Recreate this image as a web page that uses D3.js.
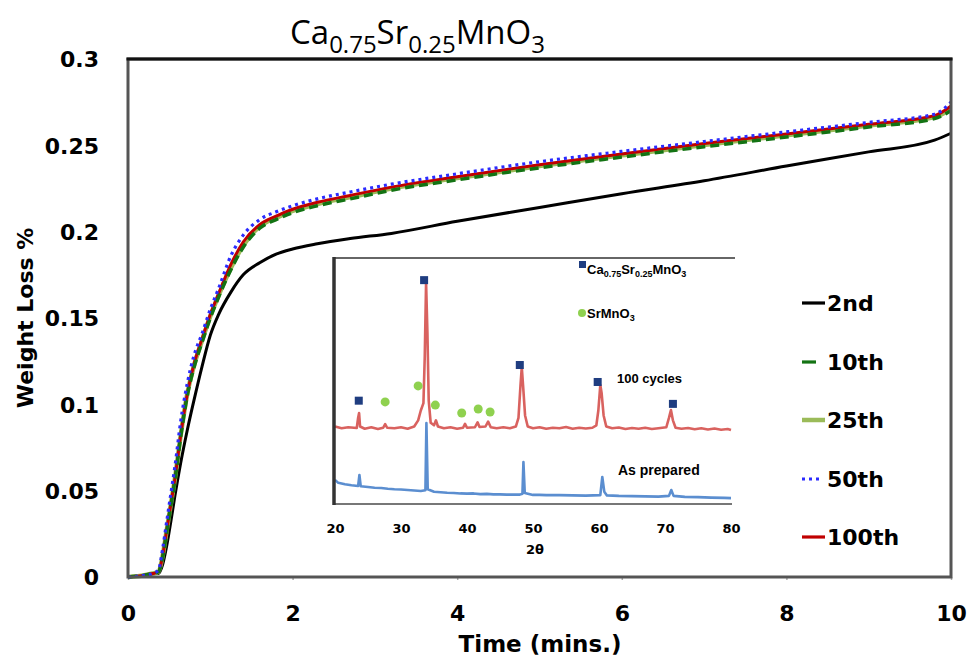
<!DOCTYPE html>
<html>
<head>
<meta charset="utf-8">
<script src="https://cdn.jsdelivr.net/npm/d3@7/dist/d3.min.js"></script>
<style>
  html, body { margin: 0; padding: 0; background: #fff; }
  svg { display: block; }
</style>
</head>
<body>
<svg id="chart" width="972" height="660"></svg>
<script>
// Time axis (minutes) shared by all cycle curves
const time = [0, 0.2, 0.3, 0.37, 0.42, 0.47, 0.52, 0.57, 0.64, 0.72, 0.8, 0.9, 1.0, 1.1, 1.25, 1.4, 1.6, 1.8, 2.0, 2.3, 2.7, 3.2, 4, 5, 6, 7, 8, 9, 9.8, 10];

// Weight loss (%) per cycle
const loss2nd   = [0, 0.001, 0.002, 0.002, 0.007, 0.018, 0.032, 0.047, 0.066, 0.085, 0.102, 0.122, 0.140, 0.152, 0.165, 0.175, 0.182, 0.187, 0.190, 0.193, 0.196, 0.199, 0.206, 0.214, 0.222, 0.2295, 0.2380, 0.2462, 0.2530, 0.257];
const loss10th  = [0, 0.001, 0.002, 0.003, 0.011, 0.026, 0.041, 0.056, 0.081, 0.105, 0.121, 0.136, 0.150, 0.162, 0.178, 0.191, 0.202, 0.207, 0.211, 0.215, 0.219, 0.2240, 0.2300, 0.2370, 0.2432, 0.2492, 0.2548, 0.2606, 0.2655, 0.2700];
const loss25th  = [0, 0.001, 0.002, 0.003, 0.012, 0.027, 0.042, 0.057, 0.082, 0.106, 0.122, 0.137, 0.151, 0.163, 0.179, 0.192, 0.203, 0.208, 0.212, 0.216, 0.220, 0.2250, 0.2310, 0.2380, 0.2442, 0.2502, 0.2558, 0.2615, 0.2663, 0.2710];
const loss50th  = [0, 0.001, 0.002, 0.004, 0.016, 0.032, 0.048, 0.064, 0.090, 0.112, 0.128, 0.141, 0.155, 0.167, 0.186, 0.198, 0.207, 0.2115, 0.215, 0.219, 0.223, 0.2275, 0.2335, 0.2405, 0.2465, 0.2522, 0.2578, 0.2633, 0.2680, 0.2750];
const loss100th = [0, 0.001, 0.002, 0.003, 0.012, 0.027, 0.042, 0.057, 0.082, 0.106, 0.123, 0.138, 0.152, 0.164, 0.181, 0.194, 0.204, 0.209, 0.213, 0.217, 0.221, 0.2258, 0.2318, 0.2388, 0.2450, 0.2510, 0.2566, 0.2622, 0.2672, 0.2728];

const xTicks = [0, 2, 4, 6, 8, 10];
const yTicks = [0, 0.05, 0.1, 0.15, 0.2, 0.25, 0.3];
const yTickLabels = ["0", "0.05", "0.1", "0.15", "0.2", "0.25", "0.3"];

const seriesNames = ["2nd", "10th", "25th", "50th", "100th"];

// XRD patterns for the inset (2θ in degrees, intensity in arbitrary units)
const theta100 = [20, 21, 22, 23.3, 23.5, 23.65, 23.8, 24.5, 25.5, 26.5, 27.3, 27.6, 27.9, 29, 30, 31, 32, 32.6, 33.0, 33.4, 33.6, 33.8, 34.0, 34.2, 34.5, 35.0, 35.3, 35.6, 36.5, 37.5, 38.5, 39.4, 39.7, 40.0, 41.2, 41.6, 41.9, 42.8, 43.2, 43.6, 44.5, 45.5, 46.5, 47.4, 47.8, 48.1, 48.3, 48.5, 48.8, 49.2, 50, 51, 52, 53, 54, 55, 56, 57, 58, 59, 59.6, 59.9, 60.2, 60.4, 60.7, 61.1, 62, 63, 64, 65, 66, 67, 68, 69, 70.2, 70.6, 70.9, 71.2, 71.6, 72.5, 73.5, 74.5, 75.5, 76.5, 77.5, 78.5, 79.5, 80];
const int100   = [31.5, 30.8, 31.2, 30.9, 35, 37, 31.5, 30.6, 31.2, 30.5, 31, 32.5, 31, 30.8, 31.2, 30.6, 31.5, 34, 38, 41, 60, 90, 70, 42, 33, 32, 34, 31.5, 30.8, 31.2, 30.6, 31, 32.6, 31, 31.2, 33.2, 31.3, 31.5, 33.5, 31.2, 30.8, 31.2, 30.8, 31.5, 35, 48, 55.7, 48, 36, 31.5, 30.8, 31.2, 30.6, 31, 30.8, 31.3, 30.6, 31, 30.7, 31, 32, 38, 48.4, 45, 36, 31.5, 30.8, 31.1, 30.5, 30.9, 30.6, 31, 30.5, 30.8, 31.2, 35, 38.2, 34, 31, 30.6, 30.9, 30.4, 30.8, 30.3, 30.7, 30.2, 30.5, 30.1];

const thetaPrep = [20, 20.5, 21.5, 22.5, 23.5, 23.7, 23.9, 25, 26, 27, 28, 29, 30, 31, 32, 33, 33.7, 33.85, 34.05, 35, 36, 37, 38, 39, 40, 41, 42, 43, 44, 45, 46, 47, 48, 48.4, 48.55, 48.75, 50, 51, 52, 54, 56, 58, 60.2, 60.5, 60.8, 61.2, 63, 65, 67, 69, 70.6, 70.95, 71.3, 73, 75, 77, 79, 80];
const intPrep   = [9.8, 8.6, 8.0, 7.6, 7.3, 11.8, 7.2, 6.9, 6.6, 6.5, 6.2, 6.0, 5.9, 5.7, 5.5, 5.3, 5.6, 32.9, 6.0, 5.0, 4.8, 4.6, 4.5, 4.3, 4.2, 4.3, 4.0, 4.1, 3.9, 3.9, 3.8, 3.8, 3.8, 4.2, 17.1, 4.5, 3.7, 3.7, 3.6, 3.6, 3.5, 3.4, 3.6, 11, 5, 3.5, 3.3, 3.2, 3.1, 3.0, 3.3, 5.7, 3.3, 2.9, 2.8, 2.6, 2.5, 2.4];

// Phase markers: perovskite reflections and SrMnO3 reflections
const perovskitePeaks = [[23.6, 42], [33.5, 91], [48.0, 56.5], [59.8, 49.6], [71.2, 40.7]];
const srmnoPeaks = [[27.6, 41.5], [32.6, 48], [35.2, 40.2], [39.2, 37], [41.7, 38.6], [43.5, 37.4]];
const insetTicks = [20, 30, 40, 50, 60, 70, 80];

const svg = d3.select("#chart");
const boldFont = "'DejaVu Sans', Verdana, sans-serif";

// ---- main plot geometry ----
const plotLeft = 128, plotRight = 951, plotTop = 59, plotBottom = 577;
const x = d3.scaleLinear().domain([0, 10]).range([plotLeft, plotRight]);
const y = d3.scaleLinear().domain([0, 0.3]).range([plotBottom, plotTop]);

// Title with subscripts
const title = svg.append("text")
  .attr("x", 290).attr("y", 44)
  .attr("font-family", "'Open Sans', 'Noto Sans', sans-serif")
  .attr("font-size", 33).attr("fill", "#000");
title.append("tspan").text("Ca");
title.append("tspan").attr("font-size", 24).attr("dy", 9).text("0.75");
title.append("tspan").attr("dy", -9).text("Sr");
title.append("tspan").attr("font-size", 24).attr("dy", 9).text("0.25");
title.append("tspan").attr("dy", -9).text("MnO");
title.append("tspan").attr("font-size", 24).attr("dy", 9).text("3");

// Axes (tick labels drawn via d3.axis, domain lines replaced by the frame)
const xAxis = d3.axisBottom(x).tickValues(xTicks).tickSize(3).tickFormat(d3.format("d"));
const gx = svg.append("g").attr("transform", `translate(0,${plotBottom})`).call(xAxis);
gx.select(".domain").remove();
gx.selectAll(".tick line").attr("stroke", "#aaa").attr("stroke-width", 1.5);
gx.selectAll(".tick text")
  .attr("font-family", boldFont).attr("font-weight", "bold").attr("font-size", 22)
  .attr("fill", "#000").attr("dy", null).attr("y", 44);

const yAxis = d3.axisLeft(y).tickValues(yTicks).tickSize(0)
  .tickFormat((d, i) => yTickLabels[i]);
const gy = svg.append("g").attr("transform", `translate(${plotLeft},0)`).call(yAxis);
gy.select(".domain").remove();
gy.selectAll(".tick text")
  .attr("font-family", boldFont).attr("font-weight", "bold").attr("font-size", 22)
  .attr("fill", "#000").attr("x", -29).attr("dy", "0.36em");

// Axis titles
svg.append("text")
  .attr("x", 540).attr("y", 652).attr("text-anchor", "middle")
  .attr("font-family", boldFont).attr("font-weight", "bold").attr("font-size", 23)
  .text("Time (mins.)");
svg.append("text")
  .attr("transform", "translate(33,318) rotate(-90)").attr("text-anchor", "middle")
  .attr("font-family", boldFont).attr("font-weight", "bold").attr("font-size", 22)
  .text("Weight Loss %");

// ---- inset XRD panel ----
const ix = d3.scaleLinear().domain([20, 80]).range([335, 731]);
const iy = d3.scaleLinear().domain([0, 100]).range([504, 258]);
const inset = svg.append("g");
inset.append("rect").attr("x", 334).attr("y", 258).attr("width", 401).attr("height", 246).attr("fill", "#fff");

const xrdLine = d3.line().x(d => ix(d[0])).y(d => iy(d[1]));
inset.append("path")
  .datum(thetaPrep.map((t, i) => [t, intPrep[i]]))
  .attr("d", xrdLine).attr("fill", "none")
  .attr("stroke", "#5b8ed0").attr("stroke-width", 2.6).attr("stroke-linejoin", "round");
inset.append("path")
  .datum(theta100.map((t, i) => [t, int100[i]]))
  .attr("d", xrdLine).attr("fill", "none")
  .attr("stroke", "#d9625f").attr("stroke-width", 2.6).attr("stroke-linejoin", "round");

inset.selectAll("rect.pv").data(perovskitePeaks).join("rect").attr("class", "pv")
  .attr("x", d => ix(d[0]) - 4).attr("y", d => iy(d[1]) - 4)
  .attr("width", 8).attr("height", 8).attr("fill", "#1f3d80");
inset.selectAll("circle.sm").data(srmnoPeaks).join("circle").attr("class", "sm")
  .attr("cx", d => ix(d[0])).attr("cy", d => iy(d[1])).attr("r", 4.5).attr("fill", "#8fd14f");

// inset frame: top border, left and bottom axes
inset.append("line").attr("x1", 334).attr("x2", 735).attr("y1", 258).attr("y2", 258)
  .attr("stroke", "#666").attr("stroke-width", 2);
inset.append("line").attr("x1", 334).attr("x2", 732).attr("y1", 504).attr("y2", 504)
  .attr("stroke", "#777").attr("stroke-width", 2);
inset.append("line").attr("x1", 334).attr("x2", 334).attr("y1", 257).attr("y2", 505)
  .attr("stroke", "#333").attr("stroke-width", 3.5);

const insetAxis = d3.axisBottom(ix).tickValues(insetTicks).tickSize(0).tickFormat(d3.format("d"));
const gix = inset.append("g").attr("transform", "translate(0,504)").call(insetAxis);
gix.select(".domain").remove();
gix.selectAll(".tick text")
  .attr("font-family", boldFont).attr("font-weight", "bold").attr("font-size", 13)
  .attr("fill", "#000").attr("y", 29).attr("dy", null);
inset.append("text").attr("x", 535).attr("y", 554).attr("text-anchor", "middle")
  .attr("font-family", boldFont).attr("font-weight", "bold").attr("font-size", 13).text("2θ");

// inset legend and labels
const smallFont = "'Liberation Sans', Arial, sans-serif";
inset.append("rect").attr("x", 579).attr("y", 261).attr("width", 7).attr("height", 7).attr("fill", "#1f3d80");
const lg1 = inset.append("text").attr("x", 587).attr("y", 274)
  .attr("font-family", smallFont).attr("font-weight", "bold").attr("font-size", 13);
lg1.append("tspan").text("Ca");
lg1.append("tspan").attr("font-size", 9).attr("dy", 3).text("0.75");
lg1.append("tspan").attr("dy", -3).text("Sr");
lg1.append("tspan").attr("font-size", 9).attr("dy", 3).text("0.25");
lg1.append("tspan").attr("dy", -3).text("MnO");
lg1.append("tspan").attr("font-size", 9).attr("dy", 3).text("3");
inset.append("circle").attr("cx", 582).attr("cy", 313).attr("r", 4).attr("fill", "#8fd14f");
const lg2 = inset.append("text").attr("x", 587).attr("y", 318)
  .attr("font-family", smallFont).attr("font-weight", "bold").attr("font-size", 13);
lg2.append("tspan").text("SrMnO");
lg2.append("tspan").attr("font-size", 9).attr("dy", 3).text("3");
inset.append("text").attr("x", 617).attr("y", 383)
  .attr("font-family", smallFont).attr("font-weight", "bold").attr("font-size", 13).text("100 cycles");
inset.append("text").attr("x", 618).attr("y", 475)
  .attr("font-family", smallFont).attr("font-weight", "bold").attr("font-size", 14).text("As prepared");

// ---- weight-loss curves ----
const curve = d3.line().x(d => x(d[0])).y(d => y(d[1])).curve(d3.curveMonotoneX);
const pts = arr => time.map((t, i) => [t, arr[i]]);

const styles = {
  "2nd":   { data: loss2nd,   color: "#000000", width: 3,   dash: null },
  "10th":  { data: loss10th,  color: "#137313", width: 3.5, dash: "9,5" },
  "25th":  { data: loss25th,  color: "#9bbb59", width: 4.5, dash: null },
  "50th":  { data: loss50th,  color: "#2b2bff", width: 3.2, dash: "3,4" },
  "100th": { data: loss100th, color: "#c00000", width: 3,   dash: null }
};
const drawOrder = ["2nd", "25th", "100th", "10th", "50th"];
const gLines = svg.append("g");
drawOrder.forEach(name => {
  const s = styles[name];
  gLines.append("path").datum(pts(s.data)).attr("d", curve)
    .attr("fill", "none").attr("stroke", s.color).attr("stroke-width", s.width)
    .attr("stroke-dasharray", s.dash).attr("stroke-linecap", "butt");
});

// plot frame
svg.append("rect").attr("x", plotLeft).attr("y", plotTop)
  .attr("width", plotRight - plotLeft).attr("height", plotBottom - plotTop)
  .attr("fill", "none").attr("stroke", "#555").attr("stroke-width", 3);
svg.append("line").attr("x1", plotLeft - 1.5).attr("x2", plotRight + 1.5).attr("y1", plotTop).attr("y2", plotTop)
  .attr("stroke", "#111").attr("stroke-width", 3);

// ---- legend ----
const legendY = [303, 362, 420, 479, 537];
const legend = svg.append("g");
seriesNames.forEach((name, i) => {
  const s = styles[name];
  const ly = legendY[i];
  const x2 = name === "10th" ? 816 : (name === "50th" ? 823 : 825);
  legend.append("line").attr("x1", 802).attr("x2", x2).attr("y1", ly).attr("y2", ly)
    .attr("stroke", s.color).attr("stroke-width", name === "25th" ? 4.5 : 3.2)
    .attr("stroke-dasharray", name === "50th" ? "3,4" : null);
  legend.append("text").attr("x", 827).attr("y", ly).attr("dy", "0.36em")
    .attr("font-family", boldFont).attr("font-weight", "bold").attr("font-size", 22)
    .text(name);
});
</script>
</body>
</html>
